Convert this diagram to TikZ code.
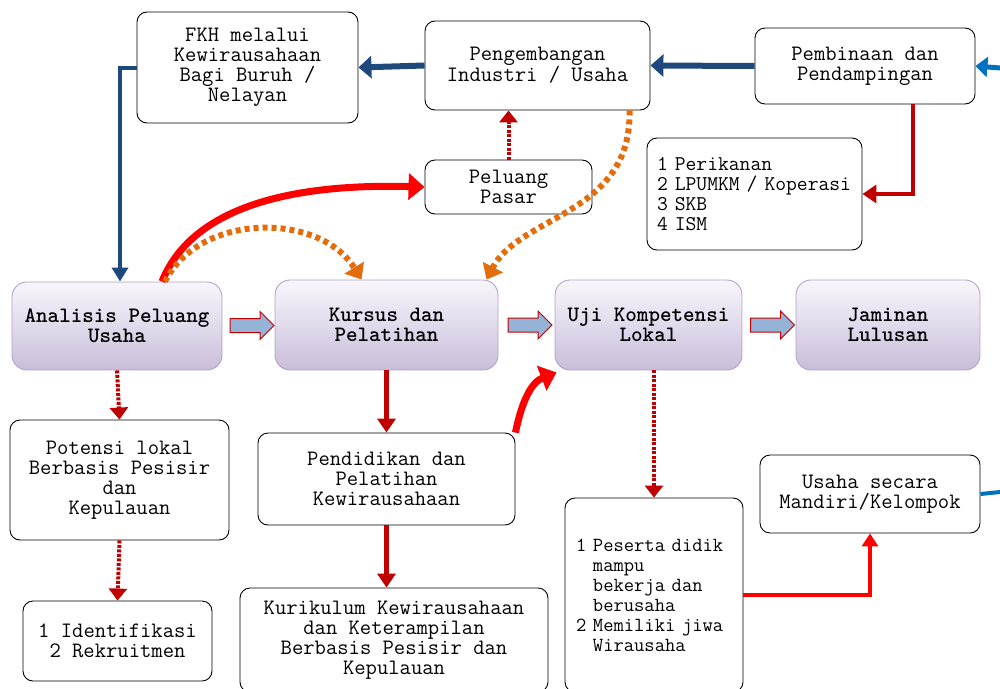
\documentclass[tikz,border=0pt]{standalone}
\usetikzlibrary{arrows.meta,shapes.arrows}
\definecolor{dblue}{RGB}{31,73,125}
\definecolor{lblue}{RGB}{0,112,192}
\definecolor{dred}{RGB}{192,0,0}
\definecolor{bred}{RGB}{255,0,0}
\definecolor{orng}{RGB}{228,108,10}
\definecolor{lav}{RGB}{201,190,218}
\definecolor{lavtop}{RGB}{248,246,252}
\definecolor{lavline}{RGB}{178,162,199}
\definecolor{arrfill}{RGB}{149,179,215}
\tikzset{
  txt/.style={font=\ttfamily\fontsize{22}{20}\selectfont},
  wbox/.style={txt, draw=black, line width=0.9pt, rounded corners=10pt, align=center, inner sep=4pt},
  mbox/.style={font=\ttfamily\bfseries\fontsize{22}{20}\selectfont, draw=lavline, line width=0.9pt,
     rounded corners=15pt, top color=lavtop, bottom color=lav, align=center},
  bluearr/.style={draw=dblue, line width=6pt, -{Triangle[length=13pt,width=22pt]}},
  lbluearr/.style={draw=lblue, line width=5pt, -{Triangle[length=12pt,width=20pt]}},
  bluemid/.style={draw=dblue, line width=4pt, -{Triangle[length=14pt,width=16pt]}},
  dredarr/.style={draw=dred, line width=5pt, -{Triangle[length=14pt,width=18pt]}},
  dreddot/.style={draw=dred, line width=4pt, dash pattern=on 3pt off 1.5pt, -{Triangle[length=12pt,width=18pt]}},
  bredarr/.style={draw=bred, line width=7pt, -{Triangle[length=16pt,width=26pt]}},
  bredthin/.style={draw=bred, line width=4.5pt, -{Triangle[length=13pt,width=16pt]}},
  orngdot/.style={draw=orng, line width=6pt, dash pattern=on 5pt off 4pt, -{Triangle[length=14pt,width=22pt]}},
  blockarr/.style={single arrow, draw=dred, line width=1pt, fill=arrfill, minimum height=44pt,
     single arrow head extend=7pt, inner xsep=0pt, inner ysep=6.5pt}
}
\begin{document}
\begin{tikzpicture}[x=1pt,y=-1pt]
\useasboundingbox (0,0) rectangle (1000,688);
% top row
\node[wbox, minimum width=221pt, minimum height=111pt] (fkh) at (247.5,67.5) {FKH melalui\\Kewirausahaan\\Bagi Buruh /\\Nelayan};
\node[wbox, minimum width=225pt, minimum height=89pt] (peng) at (537.5,65.5) {Pengembangan\\Industri / Usaha};
\node[wbox, minimum width=220pt, minimum height=76pt] (pemb) at (865,66) {Pembinaan dan\\Pendampingan};
\node[wbox, minimum width=167pt, minimum height=54pt] (pasar) at (508.5,187) {Peluang\\Pasar};
\node[wbox, minimum width=215pt, minimum height=112pt, text width=195pt, align=left, font=\ttfamily\fontsize{21}{20}\selectfont] (list1) at (754.5,194) {1 Perikanan\\2 LPUMKM / Koperasi\\3 SKB\\4 ISM};
% main row
\node[mbox, minimum width=210pt, minimum height=88pt] (ana) at (117,326) {Analisis Peluang\\Usaha};
\node[mbox, minimum width=223pt, minimum height=90pt] (kur) at (386.5,325) {Kursus dan\\Pelatihan};
\node[mbox, minimum width=187pt, minimum height=90pt] (uji) at (648.5,325) {Uji Kompetensi\\Lokal};
\node[mbox, minimum width=184pt, minimum height=90pt] (jam) at (888,325) {Jaminan\\Lulusan};
% lower boxes
\node[wbox, minimum width=219pt, minimum height=120pt] (pot) at (119.5,480) {Potensi lokal\\Berbasis Pesisir\\dan\\Kepulauan};
\node[wbox, minimum width=189pt, minimum height=80pt] (iden) at (117.5,641) {1 Identifikasi\\2 Rekruitmen};
\node[wbox, minimum width=257pt, minimum height=92pt] (pend) at (386.5,479) {Pendidikan dan\\Pelatihan\\Kewirausahaan};
\node[wbox, minimum width=308pt, minimum height=104pt] (kuri) at (394,640) {Kurikulum Kewirausahaan\\dan Keterampilan\\Berbasis Pesisir dan\\Kepulauan};
\node[wbox, minimum width=178pt, minimum height=194pt, text width=156pt, inner xsep=11pt, align=left, font=\ttfamily\fontsize{20}{20}\selectfont] (pes) at (654,595) {1 Peserta didik\\\hphantom{1 }mampu\\\hphantom{1 }bekerja dan\\\hphantom{1 }berusaha\\2 Memiliki jiwa\\\hphantom{1 }Wirausaha};
\node[wbox, minimum width=220pt, minimum height=78pt] (usa) at (870,494) {Usaha secara\\Mandiri/Kelompok};
% free ends
\coordinate (rin) at (1000,68);
\coordinate (rout) at (1000,492);
% connectors top
\draw[lbluearr] (rin) -- (pemb.east);
\draw[bluearr] (pemb.west) -- (peng.east);
\draw[bluearr] (peng.west) -- (fkh.east);
\draw[bluemid] (fkh.west) -| ([xshift=3pt]ana.north);
\draw[dreddot] (pasar.north) -- (pasar.north |- peng.south);
\draw[dredarr, line width=4pt] ([xshift=48pt]pemb.south) |- (list1.east);
% curves
\draw[bredarr] ([xshift=45pt]ana.north) .. controls (190,212) and (280,183) .. (pasar.west);
\draw[orngdot] ([xshift=48pt]ana.north) .. controls (200,212) and (320,212) .. ([xshift=-25pt]kur.north);
\draw[orngdot] ([xshift=92pt]peng.south) .. controls (632,215) and (520,215) .. ([xshift=100pt]kur.north);
% block arrows
\path (ana.east) -- (kur.west) node[midway, blockarr] {};
\path (kur.east) -- (uji.west) node[midway, blockarr] {};
\path (uji.east) -- (jam.west) node[midway, blockarr] {};
% lower connectors
\draw[dreddot] (ana.south) -- (pot.north);
\draw[dreddot] (pot.south) -- (iden.north);
\draw[dredarr] (kur.south) -- (pend.north);
\draw[dredarr] (pend.south) -- (pend.south |- kuri.north);
\draw[bredarr] (pend.north east) .. controls (522,400) and (532,382) .. ([xshift=2pt,yshift=-2pt]uji.south west);
\draw[dreddot] (pes.north |- uji.south) -- (pes.north);
\draw[bredthin] (pes.east) -| (usa.south);
\draw[draw=lblue, line width=4pt] (usa.east) -- (rout);
\end{tikzpicture}
\end{document}
